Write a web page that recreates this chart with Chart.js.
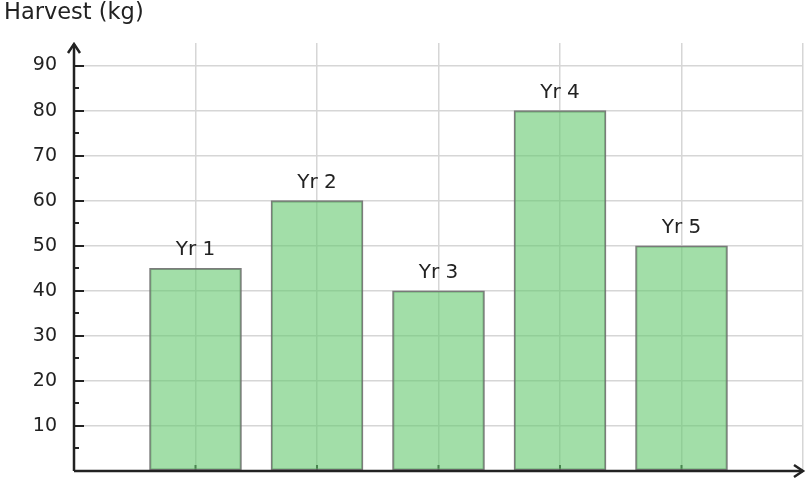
<!DOCTYPE html>
<html>
<head>
<meta charset="utf-8">
<script src="https://cdn.jsdelivr.net/npm/chart.js@4.4.1/dist/chart.umd.min.js"></script>
<style>
  html, body { margin: 0; padding: 0; background: #fff; }
  #wrap { width: 807px; height: 480px; }
</style>
</head>
<body>
<div id="wrap"><canvas id="chart" width="807" height="480"></canvas></div>
<script>
// Data
const years = ["Yr 1", "Yr 2", "Yr 3", "Yr 4", "Yr 5"];
const harvest = [45, 60, 40, 80, 50];
const yTitle = "Harvest (kg)";
const yMax = 95;

const FONT = "'DejaVu Sans', sans-serif";
const INK = "#222222";

// custom axes with arrows, inward ticks, bar labels and title
const decor = {
  id: "decor",
  beforeDatasetsDraw(chart) {
    const { ctx, scales: { x, y } } = chart;
    const base = y.getPixelForValue(0);
    ctx.save();
    ctx.strokeStyle = INK;
    ctx.lineWidth = 2;
    years.forEach((_, i) => {
      const px = x.getPixelForValue(i + 1);
      ctx.beginPath();
      ctx.moveTo(px, base);
      ctx.lineTo(px, base - 6);
      ctx.stroke();
    });
    ctx.restore();
  },
  afterDatasetsDraw(chart) {
    const { ctx, chartArea: a, scales: { x, y } } = chart;
    ctx.save();
    const left = a.left, bottom = a.bottom;

    // y ticks (inside)
    ctx.strokeStyle = INK;
    ctx.lineWidth = 2;
    for (let v = 5; v < yMax; v += 5) {
      const py = Math.round(y.getPixelForValue(v));
      ctx.beginPath();
      ctx.moveTo(left, py);
      ctx.lineTo(left + (v % 10 === 0 ? 10 : 5), py);
      ctx.stroke();
    }

    // axes
    ctx.lineWidth = 2.5;
    ctx.beginPath();
    ctx.moveTo(left, bottom);
    ctx.lineTo(left, a.top + 1);
    ctx.moveTo(left, bottom);
    ctx.lineTo(a.right, bottom);
    ctx.stroke();

    // arrow heads
    ctx.beginPath();
    ctx.moveTo(left - 6, a.top + 10);
    ctx.lineTo(left, a.top + 1);
    ctx.lineTo(left + 6, a.top + 10);
    ctx.moveTo(a.right - 9, bottom - 6);
    ctx.lineTo(a.right, bottom);
    ctx.lineTo(a.right - 9, bottom + 6);
    ctx.stroke();

    // bar labels
    ctx.fillStyle = INK;
    ctx.font = "20px " + FONT;
    ctx.textAlign = "center";
    ctx.textBaseline = "middle";
    years.forEach((lab, i) => {
      ctx.fillText(lab, x.getPixelForValue(i + 1), y.getPixelForValue(harvest[i]) - 18);
    });

    // title
    ctx.font = "22.5px " + FONT;
    ctx.textAlign = "left";
    ctx.fillText(yTitle, 4, 13);
    ctx.restore();
  }
};

const ctx = document.getElementById("chart").getContext("2d");
new Chart(ctx, {
  type: "bar",
  data: {
    datasets: [{
      data: harvest.map((v, i) => ({ x: i + 1, y: v })),
      backgroundColor: "rgba(100,200,110,0.6)",
      borderColor: "rgba(110,110,110,0.9)",
      borderWidth: 1.5,
      borderSkipped: false,
      barThickness: 92,
    }],
  },
  options: {
    responsive: false,
    animation: false,
    layout: { padding: { top: 43, right: 4, bottom: 9, left: 0 } },
    plugins: { legend: { display: false }, tooltip: { enabled: false } },
    scales: {
      x: {
        type: "linear",
        min: 0,
        max: 6,
        offset: false,
        ticks: { display: false, stepSize: 1 },
        grid: { color: "#d6d6d6", lineWidth: 1.5, drawTicks: false, offset: false },
        border: { display: false },
        afterFit: s => { s.height = 0; s.paddingLeft = 0; s.paddingRight = 0; },
      },
      y: {
        min: 0,
        max: yMax,
        ticks: {
          stepSize: 5,
          padding: 17,
          color: INK,
          font: { family: FONT, size: 19 },
          callback: v => (v % 10 === 0 && v > 0 ? v : ""),
        },
        grid: { color: "#d6d6d6", lineWidth: 1.5, drawTicks: false },
        border: { display: false },
        afterFit: s => { s.width = 74; s.paddingTop = 0; s.paddingBottom = 0; },
      },
    },
  },
  plugins: [decor],
});
</script>
</body>
</html>
